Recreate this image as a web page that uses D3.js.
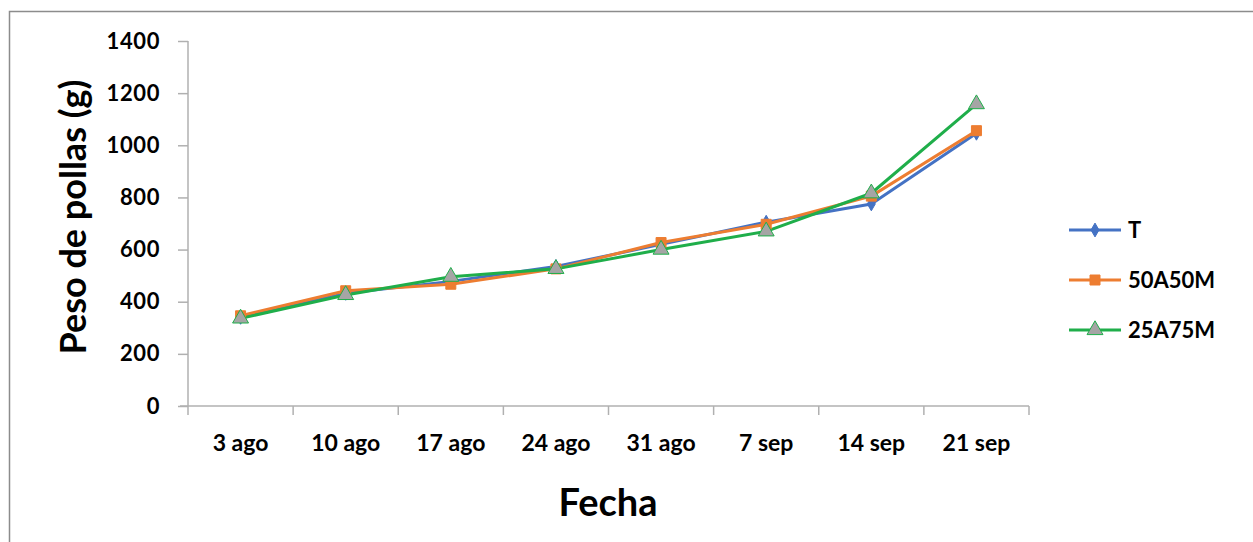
<!DOCTYPE html>
<html><head><meta charset="utf-8">
<script src="https://cdn.jsdelivr.net/npm/d3@7"></script>
<style>body{margin:0;background:#fff;}svg{display:block;font-family:Lato,"Open Sans",sans-serif;}</style>
</head><body>
<svg id="c" width="1253" height="542"></svg>
<script>
const categories = ["3 ago","10 ago","17 ago","24 ago","31 ago","7 sep","14 sep","21 sep"];
const seriesT = [340, 432, 478, 535, 620, 705, 775, 1046];
const series50A50M = [346, 442, 467, 526, 627, 697, 805, 1056];
const series25A75M = [336, 426, 496, 526, 600, 670, 816, 1158];
const yTicks = [0,200,400,600,800,1000,1200,1400];
const seriesNames = ["T","50A50M","25A75M"];

const svg = d3.select("#c");
svg.append("path").attr("d","M9.5,542 V11.5 H1253").attr("fill","none").attr("stroke","#8c8c8c").attr("stroke-width",1.5);

const x = d3.scaleBand().domain(categories).range([188,1029]);
const y = d3.scaleLinear().domain([0,1400]).range([406,41]);

const gy = svg.append("g").attr("transform","translate(188,0)")
  .call(d3.axisLeft(y).tickValues(yTicks).tickFormat(d3.format("d")).tickSize(10).tickPadding(18));
gy.selectAll("path,line").attr("stroke","#b0b0b0").attr("stroke-width",1.5);
gy.select(".domain").attr("d","M0,406V41");
gy.selectAll("text").attr("font-size",22).attr("font-weight","bold").attr("fill","#000").attr("font-family","Lato").attr("letter-spacing",0.6);

const boundaries = categories.map(c=>x(c)).concat([x.range()[1]]);
const gx = svg.append("g").attr("transform","translate(0,406)");
gx.append("line").attr("x1",180).attr("x2",1029).attr("stroke","#b0b0b0").attr("stroke-width",1.5);
gx.selectAll(".tk").data(boundaries).join("line").attr("x1",d=>d).attr("x2",d=>d).attr("y1",0).attr("y2",9).attr("stroke","#b0b0b0").attr("stroke-width",1.5);
gx.selectAll(".lb").data(categories).join("text")
  .attr("x",d=>x(d)+x.bandwidth()/2).attr("y",45).attr("text-anchor","middle")
  .attr("font-size",23).attr("font-weight","bold").attr("font-family","Lato").text(d=>d);

svg.append("text").attr("transform","translate(86,217) rotate(-90)").attr("text-anchor","middle")
  .attr("font-size",36).attr("font-weight","bold").attr("font-family","Lato").text("Peso de pollas (g)");
svg.append("text").attr("x",608).attr("y",516).attr("text-anchor","middle")
  .attr("font-size",38).attr("font-weight","bold").attr("font-family","Lato").text("Fecha");

const cx = c => x(c)+x.bandwidth()/2;
const colors = ["#4472c4","#ed7d31","#1fae4a"];
const data = [seriesT, series50A50M, series25A75M];
const line = d3.line().x((d,i)=>cx(categories[i])).y(d=>y(d));
const sym = [d3.symbolDiamond, d3.symbolSquare, d3.symbolTriangle];
const symSize = [55, 100, 110];
const symFill = ["#4472c4","#ed7d31","#a5a5a5"];

data.forEach((s,k)=>{
  svg.append("path").datum(s).attr("d",line).attr("fill","none").attr("stroke",colors[k]).attr("stroke-width",3).attr("stroke-linejoin","round");
});
data.forEach((s,k)=>{
  svg.append("g").selectAll("path").data(s).join("path")
    .attr("transform",(d,i)=>`translate(${cx(categories[i])},${y(d)})`)
    .attr("d",d3.symbol().type(sym[k]).size(symSize[k]))
    .attr("fill",symFill[k]).attr("stroke",colors[k]).attr("stroke-width",1);
});

// legend
const lg = svg.append("g");
seriesNames.forEach((n,k)=>{
  const ly = 230 + k*50;
  lg.append("line").attr("x1",1069).attr("x2",1121).attr("y1",ly).attr("y2",ly).attr("stroke",colors[k]).attr("stroke-width",3);
  lg.append("path").attr("transform",`translate(1095,${ly})`).attr("d",d3.symbol().type(sym[k]).size(symSize[k])).attr("fill",symFill[k]).attr("stroke",colors[k]).attr("stroke-width",1);
  lg.append("text").attr("x",1128).attr("y",ly+8).attr("font-size",22).attr("font-weight","bold").attr("font-family","Lato").text(n);
});
</script>
</body></html>
